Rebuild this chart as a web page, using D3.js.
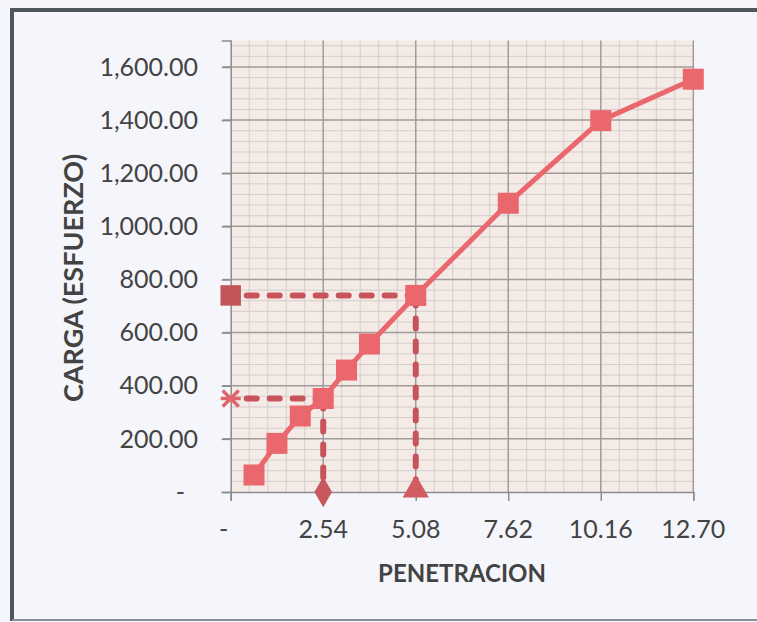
<!DOCTYPE html>
<html>
<head>
<meta charset="utf-8">
<script src="https://cdn.jsdelivr.net/npm/d3@7"></script>
<style>
  body { margin: 0; background: #ffffff; }
  svg { display: block; font-family: Lato, "Open Sans", sans-serif; }
</style>
</head>
<body>
<script>
// Data
var penetracion = [0.64, 1.27, 1.91, 2.54, 3.18, 3.81, 5.08, 7.62, 10.16, 12.70];
var carga = [64, 183, 286, 352, 459, 557, 740, 1087, 1398, 1554];

// Reference readings (at 0.1" and 0.2" penetration)
var refPen = [2.54, 5.08];
var refCarga = [352, 740];

// Tick values
var xTicks = [0, 2.54, 5.08, 7.62, 10.16, 12.70];
var yTicks = [0, 200, 400, 600, 800, 1000, 1200, 1400, 1600];

var W = 757, H = 622;
var plotLeft = 230.7, plotRight = 693.3, plotTop = 40.4, plotBottom = 492;

var x = d3.scaleLinear().domain([0, 12.70]).range([plotLeft, plotRight]);
var y = d3.scaleLinear().domain([0, 1700]).range([plotBottom, plotTop]);

var lineColor = "#ea676e";
var refColor = "#c9535a";
var textColor = "#434343";

var svg = d3.select("body").append("svg").
attr("width", W).
attr("height", H);

// page background and frame
svg.append("rect").attr("width", W).attr("height", H).attr("fill", "#f5f6fb");
svg.append("line").attr("x1", 12).attr("x2", W).attr("y1", 10).attr("y2", 10).
attr("stroke", "#4f565c").attr("stroke-width", 4);
svg.append("line").attr("x1", 12).attr("x2", 12).attr("y1", 8).attr("y2", 621).
attr("stroke", "#4f565c").attr("stroke-width", 4);
svg.append("line").attr("x1", 12).attr("x2", W).attr("y1", 620).attr("y2", 620).
attr("stroke", "#8a8e94").attr("stroke-width", 2);

// plot area
svg.append("rect").
attr("x", plotLeft).attr("y", plotTop).
attr("width", plotRight - plotLeft).attr("height", plotBottom - plotTop).
attr("fill", "#f4ebe7");

// minor grid: 5 divisions per major step
var xMinor = [];
for (var i = 1; i < (xTicks.length - 1) * 5; i++) if (i % 5) xMinor.push(i * 2.54 / 5);
var yMinor = [];
for (var j = 1; j <= 42; j++) if (j % 5) yMinor.push(j * 40);

svg.append("g").selectAll("line").data(xMinor).enter().append("line").
attr("x1", function (d) { return x(d); }).attr("x2", function (d) { return x(d); }).
attr("y1", plotTop).attr("y2", plotBottom).
attr("stroke", "#d4cdca").attr("stroke-width", 1);

svg.append("g").selectAll("line").data(yMinor).enter().append("line").
attr("x1", plotLeft).attr("x2", plotRight).
attr("y1", function (d) { return y(d); }).attr("y2", function (d) { return y(d); }).
attr("stroke", "#d4cdca").attr("stroke-width", 1);

// major grid
svg.append("g").selectAll("line").data(xTicks.slice(1)).enter().append("line").
attr("x1", function (d) { return x(d); }).attr("x2", function (d) { return x(d); }).
attr("y1", plotTop).attr("y2", plotBottom).
attr("stroke", "#a19b99").attr("stroke-width", 1.5);

svg.append("g").selectAll("line").data(yTicks.slice(1)).enter().append("line").
attr("x1", plotLeft - 8).attr("x2", plotRight).
attr("y1", function (d) { return y(d); }).attr("y2", function (d) { return y(d); }).
attr("stroke", "#a19b99").attr("stroke-width", 1.5);

// axes
var xAxis = d3.axisBottom(x).tickValues(xTicks).tickSize(9).tickFormat("");
var yAxis = d3.axisLeft(y).tickValues(yTicks).tickSize(9).tickFormat("");

svg.append("g").attr("transform", "translate(0," + plotBottom + ")").call(xAxis).
call(function (g) {
  g.select(".domain").attr("stroke", "#8c8c8c").attr("stroke-width", 1.5);
  g.selectAll(".tick line").attr("stroke", "#8c8c8c").attr("stroke-width", 1.5);
});
svg.append("g").attr("transform", "translate(" + plotLeft + ",0)").call(yAxis).
call(function (g) {
  g.select(".domain").attr("stroke", "#8c8c8c").attr("stroke-width", 1.5);
  g.selectAll(".tick line").attr("stroke", "#8c8c8c").attr("stroke-width", 1.5);
});

// tick labels, accounting style ("-" for zero)
var fmt = d3.format(",.2f");
svg.append("g").selectAll("text").data(yTicks).enter().append("text").
attr("x", function (d) { return d === 0 ? 185 : 198; }).
attr("y", function (d) { return y(d); }).
attr("dy", "0.35em").
attr("text-anchor", "end").
attr("fill", textColor).
style("font-size", "25px").
text(function (d) { return d === 0 ? "-" : fmt(d); });

svg.append("g").selectAll("text").data(xTicks).enter().append("text").
attr("x", function (d) { return d === 0 ? x(d) - 7 : x(d); }).
attr("y", 538).
attr("text-anchor", "middle").
attr("fill", textColor).
style("font-size", "25px").
text(function (d) { return d === 0 ? "-" : fmt(d); });

// axis titles
svg.append("text").
attr("x", 462).attr("y", 582).
attr("text-anchor", "middle").
attr("fill", textColor).
style("font-size", "24px").style("font-weight", "bold").
text("PENETRACION");

svg.append("text").
attr("transform", "translate(83,278) rotate(-90)").
attr("text-anchor", "middle").
attr("fill", textColor).
style("font-size", "27px").style("font-weight", "bold").
text("CARGA (ESFUERZO)");

// reference dashed lines
var dash = svg.append("g").
attr("fill", "none").
attr("stroke", refColor).
attr("stroke-width", 6).
attr("stroke-linecap", "round").
attr("stroke-dasharray", "10,13");

refPen.forEach(function (p, i) {
  dash.append("path").attr("d", d3.line()([[x(0) + 16, y(refCarga[i])], [x(p), y(refCarga[i])]]));
  dash.append("path").attr("d", d3.line()([[x(p), y(refCarga[i])], [x(p), y(0)]]));
});

// reference markers on the axes
svg.append("path").
attr("transform", "translate(" + x(0) + "," + y(refCarga[1]) + ")").
attr("d", d3.symbol().type(d3.symbolSquare).size(420)()).
attr("fill", "#c2545a");

svg.append("path").
attr("transform", "translate(" + x(0) + "," + y(refCarga[0]) + ")").
attr("d", d3.symbol().type(d3.symbolX).size(170)()).
attr("fill", "none").attr("stroke", "#e3646b").attr("stroke-width", 3.5);
svg.append("line").
attr("x1", x(0) - 10).attr("x2", x(0) + 10).
attr("y1", y(refCarga[0])).attr("y2", y(refCarga[0])).
attr("stroke", "#e3646b").attr("stroke-width", 3.5);

svg.append("path").
attr("transform", "translate(" + x(refPen[0]) + "," + y(0) + ")").
attr("d", d3.symbol().type(d3.symbolDiamond).size(270)()).
attr("fill", "#c8585d");

svg.append("path").
attr("transform", "translate(" + x(refPen[1]) + "," + (y(0) - 2) + ")").
attr("d", d3.symbol().type(d3.symbolTriangle).size(300)()).
attr("fill", "#d25c62");

// data series
var pts = penetracion.map(function (p, i) { return [x(p), y(carga[i])]; });

svg.append("path").
attr("d", d3.line()(pts)).
attr("fill", "none").
attr("stroke", lineColor).
attr("stroke-width", 5).
attr("stroke-linejoin", "round");

svg.append("g").selectAll("rect").data(pts).enter().append("rect").
attr("x", function (d) { return d[0] - 10.5; }).
attr("y", function (d) { return d[1] - 10.5; }).
attr("width", 21).attr("height", 21).
attr("fill", lineColor);
</script>
</body>
</html>
